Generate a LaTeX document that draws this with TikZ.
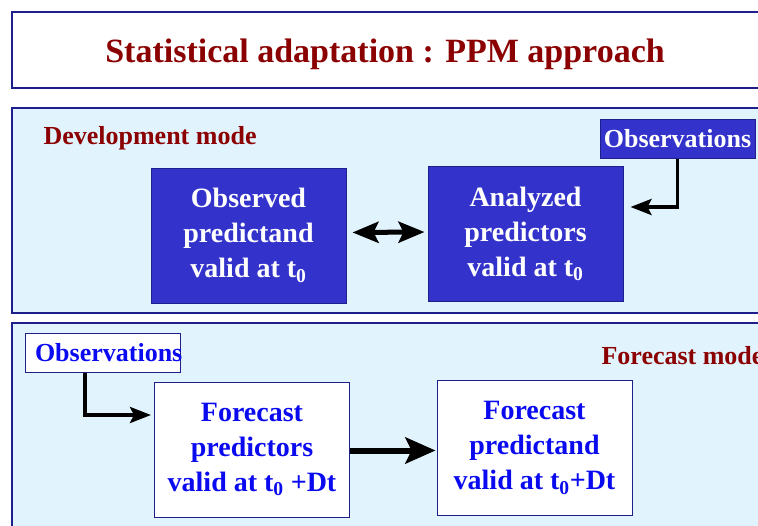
\documentclass[tikz,border=0pt]{standalone}
\usepackage{fontspec}
\setmainfont{Liberation Serif}
\usetikzlibrary{arrows.meta, positioning}
\definecolor{ppmred}{HTML}{8B0000}
\definecolor{ppmnavy}{HTML}{1F1F8C}
\definecolor{ppmblue}{HTML}{3333CC}
\definecolor{ppmsky}{HTML}{E1F3FD}
\definecolor{ppmtext}{HTML}{0A0AF0}

\tikzset{
  panel/.style={draw=ppmnavy, line width=1.3pt, fill=ppmsky},
  devbox/.style={draw=ppmnavy, line width=1pt, fill=ppmblue, text=white, align=center,
    minimum width=195pt, minimum height=135pt, font=\bfseries\fontsize{28}{35}\selectfont},
  fcbox/.style={devbox, fill=white, text=ppmtext},
  obsbox/.style={draw=ppmnavy, line width=1pt, minimum width=155pt, minimum height=39pt,
    inner sep=0pt, font=\bfseries\fontsize{26}{30}\selectfont},
  modelabel/.style={text=ppmred, anchor=west, font=\bfseries\fontsize{26}{30}\selectfont},
  flow/.style={-{Stealth[length=21pt,width=16pt,inset=4pt]}, line width=3.6pt}
}

\begin{document}
\begin{tikzpicture}[x=1pt,y=-1pt]
  \useasboundingbox (0,0) rectangle (758,525);
  \clip (0,0) rectangle (758,525);

  % title
  \draw[draw=ppmnavy, line width=2.4pt, fill=white] (12,12) rectangle (800,88);
  \node[text=ppmred, font=\bfseries\fontsize{34}{40}\selectfont] (title) at (385,54)
    {Statistical adaptation : PPM approach};

  % development mode
  \draw[panel] (12,108) rectangle (800,313);
  \node[modelabel] (devlabel) at (40,138) {Development mode};
  \node[obsbox, fill=ppmblue, text=white] (obsD) at (677.5,139) {\raisebox{-3pt}{Observations}};
  \node[devbox] (obsP) at (248.5,235.5) {Observed\\predictand\\valid at t\textsubscript{0}};
  \node[devbox] (anaP) at (525.5,234) {Analyzed\\predictors\\valid at t\textsubscript{0}};
  \draw[{Stealth[length=26pt,width=21pt,inset=5pt]}-{Stealth[length=26pt,width=21pt,inset=5pt]},
    line width=5pt, shorten <=6pt, shorten >=3pt] ([yshift=3pt]obsP.east) -- ([yshift=2pt]anaP.west);
  \draw[flow] (obsD.south) |- ([xshift=7pt,yshift=27pt]anaP.east);

  % forecast mode
  \draw[panel] (12,323) rectangle (800,560);
  \node[modelabel] (fclabel) at (598,356) {Forecast mode};
  \node[obsbox, fill=white, text=ppmtext] (obsF) at (102.5,352.5)
    {\makebox[155pt][l]{\hspace{10pt}\raisebox{-3pt}{Observations}}};
  \node[fcbox] (fcP) at (252,449.5) {Forecast\\predictors\\valid at t\textsubscript{0} +Dt};
  \node[fcbox] (fcT) at (534.5,448) {Forecast\\predictand\\valid at t\textsubscript{0}+Dt};
  \draw[flow] ([xshift=-17.5pt]obsF.south) |- ([xshift=-3pt,yshift=34.5pt]fcP.west);
  \draw[-{Stealth[length=30pt,width=26pt,inset=6pt]}, line width=6pt, shorten >=1pt]
    ([yshift=-1pt]fcP.east) -- ([yshift=-2.5pt]fcT.west);
\end{tikzpicture}
\end{document}
